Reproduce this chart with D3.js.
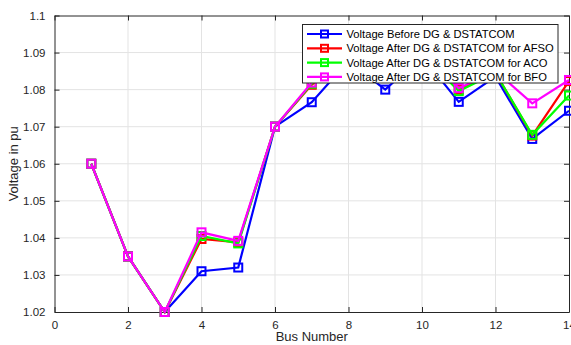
<!DOCTYPE html>
<html><head><meta charset="utf-8">
<script src="https://cdn.jsdelivr.net/npm/d3@7"></script>
<style>body{margin:0;background:#fff}svg{display:block;font-family:"Liberation Sans",Arial,sans-serif}</style>
</head><body>
<svg id="c" width="571" height="345"></svg>
<script>
const buses = [1,2,3,4,5,6,7,8,9,10,11,12,13,14];
const vBefore = [1.060,1.035,1.020,1.031,1.032,1.070,1.0766,1.0877,1.0800,1.0890,1.0767,1.0835,1.0667,1.0743];
const vAFSO   = [1.060,1.035,1.020,1.0397,1.0388,1.070,1.0813,1.0895,1.0860,1.0895,1.0800,1.0845,1.0676,1.0823];
const vACO    = [1.060,1.035,1.020,1.0405,1.0385,1.070,1.0816,1.0897,1.0862,1.0897,1.0796,1.0845,1.0678,1.0784];
const vBFO    = [1.060,1.035,1.020,1.0415,1.0392,1.070,1.0819,1.0900,1.0865,1.0900,1.0804,1.0850,1.0763,1.0826];
const seriesNames = ["Voltage Before DG & DSTATCOM","Voltage After DG & DSTATCOM for AFSO","Voltage After DG & DSTATCOM for ACO","Voltage After DG & DSTATCOM for BFO"];
const seriesColors = ["#0000ff","#ff0000","#00ff00","#ff00ff"];
const xTicks = [0,2,4,6,8,10,12,14];
const yTicks = [1.02,1.03,1.04,1.05,1.06,1.07,1.08,1.09,1.1];

const seriesVals = [vBefore,vAFSO,vACO,vBFO];
const svg = d3.select("#c");
const L=54.5, R=569, T=15.5, B=312;
const x = d3.scaleLinear().domain([0,14]).range([L,R]);
const y = d3.scaleLinear().domain([1.02,1.1]).range([B,T]);

// grid
svg.append("g").selectAll("line").data(xTicks.slice(1,-1)).join("line")
  .attr("x1",d=>x(d)).attr("x2",d=>x(d)).attr("y1",T).attr("y2",B)
  .attr("stroke","#e3e3e3").attr("stroke-width",1);
svg.append("g").selectAll("line").data(yTicks.slice(1,-1)).join("line")
  .attr("x1",L).attr("x2",R).attr("y1",d=>y(d)).attr("y2",d=>y(d))
  .attr("stroke","#e3e3e3").attr("stroke-width",1);

// axes
const fmt = d=>String(+d.toFixed(2));
const axB = svg.append("g").attr("transform",`translate(0,${B})`).call(d3.axisBottom(x).tickValues(xTicks).tickSizeInner(-5).tickSizeOuter(0).tickPadding(9));
const axT = svg.append("g").attr("transform",`translate(0,${T})`).call(d3.axisTop(x).tickValues(xTicks).tickSizeInner(-5).tickSizeOuter(0).tickFormat(""));
const axLft = svg.append("g").attr("transform",`translate(${L},0)`).call(d3.axisLeft(y).tickValues(yTicks).tickSizeInner(-5).tickSizeOuter(0).tickPadding(9).tickFormat(fmt));
const axRt = svg.append("g").attr("transform",`translate(${R},0)`).call(d3.axisRight(y).tickValues(yTicks).tickSizeInner(-5).tickSizeOuter(0).tickFormat(""));
[axB,axT,axLft,axRt].forEach(a=>{
  a.selectAll("path").attr("stroke","#262626").attr("stroke-width",1);
  a.selectAll("line").attr("stroke","#262626");
  a.selectAll("text").attr("fill","#262626").style("font-size","11.5px").style("font-family",'"Liberation Sans",Arial,sans-serif');
});

// lines
const line = d3.line().x((d,i)=>x(buses[i])).y(d=>y(d));
seriesVals.forEach((vals,k)=>{
  const g = svg.append("g");
  g.append("path").datum(vals).attr("d",line).attr("fill","none")
    .attr("stroke",seriesColors[k]).attr("stroke-width",2.2).attr("stroke-linejoin","miter");
  g.selectAll("rect").data(vals).join("rect")
    .attr("x",(d,i)=>x(buses[i])-4).attr("y",d=>y(d)-4).attr("width",8).attr("height",8)
    .attr("fill","none").attr("stroke",seriesColors[k]).attr("stroke-width",2);
});

// legend
const lg = svg.append("g");
lg.append("rect").attr("x",302.5).attr("y",24.5).attr("width",255.5).attr("height",58.5)
  .attr("fill","#fff").attr("stroke","#262626").attr("stroke-width",1);
seriesNames.forEach((n,k)=>{
  const yy = 34 + k*14.3;
  lg.append("line").attr("x1",307).attr("x2",342).attr("y1",yy).attr("y2",yy)
    .attr("stroke",seriesColors[k]).attr("stroke-width",2.2);
  lg.append("rect").attr("x",324.5-3.5).attr("y",yy-3.5).attr("width",7).attr("height",7)
    .attr("fill","none").attr("stroke",seriesColors[k]).attr("stroke-width",2);
  lg.append("text").attr("x",346.5).attr("y",yy+4).text(n)
    .style("font-size","11.2px").attr("fill","#000");
});

// axis titles
svg.append("text").attr("x",(L+R)/2).attr("y",341).attr("text-anchor","middle")
  .style("font-size","13px").attr("fill","#262626").text("Bus Number");
svg.append("text").attr("transform",`translate(18,${(T+B)/2}) rotate(-90)`).attr("text-anchor","middle")
  .style("font-size","13px").attr("fill","#262626").text("Voltage in pu");
</script>
</body></html>
